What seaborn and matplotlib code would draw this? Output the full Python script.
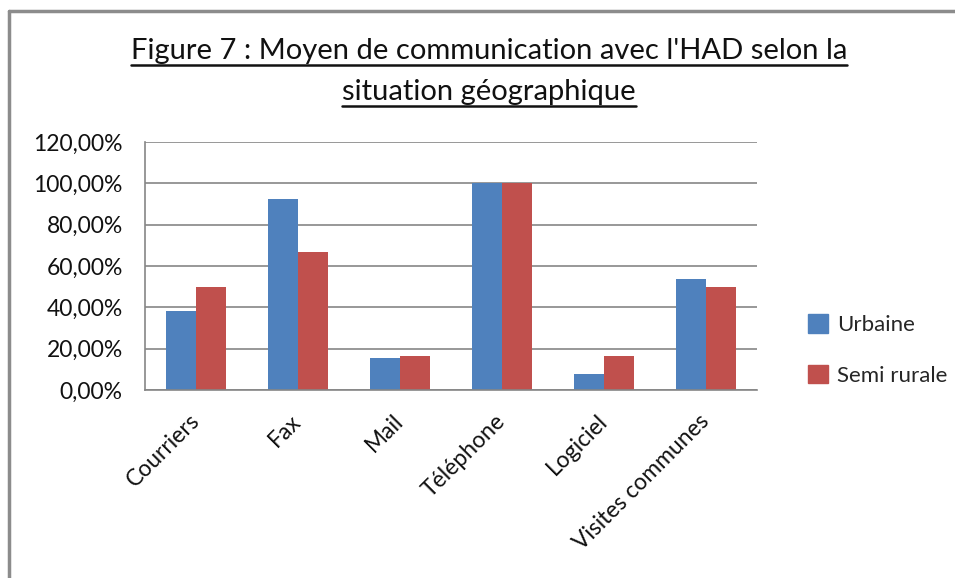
import numpy as np
import pandas as pd
import matplotlib
matplotlib.use('Agg')
import matplotlib.pyplot as plt
import seaborn as sns
from matplotlib.ticker import FuncFormatter
from matplotlib.lines import Line2D
from matplotlib.patches import Rectangle

# Data (percent)
categories = ['Courriers', 'Fax', 'Mail', 'Téléphone', 'Logiciel', 'Visites communes']
urbaine = [38.46, 92.31, 15.38, 100.0, 7.69, 53.85]
semi_rurale = [50.0, 66.67, 16.67, 100.0, 16.67, 50.0]
series_names = ['Urbaine', 'Semi rurale']
colors = ['#4F81BD', '#C0504D']

df = pd.DataFrame({
    'categorie': categories * 2,
    'valeur': urbaine + semi_rurale,
    'serie': [series_names[0]] * len(categories) + [series_names[1]] * len(categories),
})

sns.set_style('white')
plt.rcParams['font.family'] = ['Lato', 'DejaVu Sans']

fig = plt.figure(figsize=(9.55, 5.78), dpi=100)
ax = fig.add_axes([145 / 955, 1 - 390 / 578, 612 / 955, 248 / 578])

sns.barplot(data=df, x='categorie', y='valeur', hue='serie', palette=colors,
            saturation=1, width=0.58, gap=0, linewidth=0, ax=ax, legend=False)

ax.set_ylim(0, 120)
ax.set_yticks(np.arange(0, 121, 20))
ax.yaxis.set_major_formatter(FuncFormatter(lambda v, p: f"{v:.2f}%".replace('.', ',')))
ax.set_xlim(-0.5, len(categories) - 0.5)
ax.grid(True, axis='y', color='#868686', linewidth=1.2)
ax.set_axisbelow(True)
ax.set_xlabel('')
ax.set_ylabel('')
for side in ['top', 'right']:
    ax.spines[side].set_visible(False)
for side in ['left', 'bottom']:
    ax.spines[side].set_color('#868686')
    ax.spines[side].set_linewidth(1.2)
ax.tick_params(axis='y', labelsize=16.5, pad=16, length=0, labelcolor='#111111')
ax.tick_params(axis='x', labelsize=16.5, length=0, pad=20, labelcolor='#111111')
plt.setp(ax.get_xticklabels(), rotation=45, ha='right', va='center', rotation_mode='anchor')

# Legend
handles = [Rectangle((0, 0), 1, 1, color=c) for c in colors]
fig.legend(handles, series_names, loc='center left', bbox_to_anchor=(797 / 955, 1 - 350 / 578),
           frameon=False, borderpad=0, fontsize=16, handlelength=0.9, handleheight=0.9,
           handletextpad=0.4, labelspacing=1.35)

# Chart frame (only top and left edges are inside the picture)
fig.lines.append(Line2D([9 / 955, 1.0], [1 - 11 / 578, 1 - 11 / 578], transform=fig.transFigure,
                        color='#8C8C8C', linewidth=2.5))
fig.lines.append(Line2D([9 / 955, 9 / 955], [0, 1 - 11 / 578], transform=fig.transFigure,
                        color='#8C8C8C', linewidth=2.5))

# Underlined two-line title
t1 = fig.text(489 / 955, 1 - 51 / 578, "Figure 7 : Moyen de communication avec l'HAD selon la",
              ha='center', va='center', fontsize=21, color='#111111')
t2 = fig.text(489 / 955, 1 - 92 / 578, "situation géographique",
              ha='center', va='center', fontsize=21, color='#111111')
fig.canvas.draw()
renderer = fig.canvas.get_renderer()
for t in (t1, t2):
    bb = t.get_window_extent(renderer).transformed(fig.transFigure.inverted())
    y = bb.y0 - 1.0 / 578
    fig.lines.append(Line2D([bb.x0, bb.x1], [y, y], transform=fig.transFigure,
                            color='#111111', linewidth=1.8))

fig.savefig('out.png', dpi=100)
